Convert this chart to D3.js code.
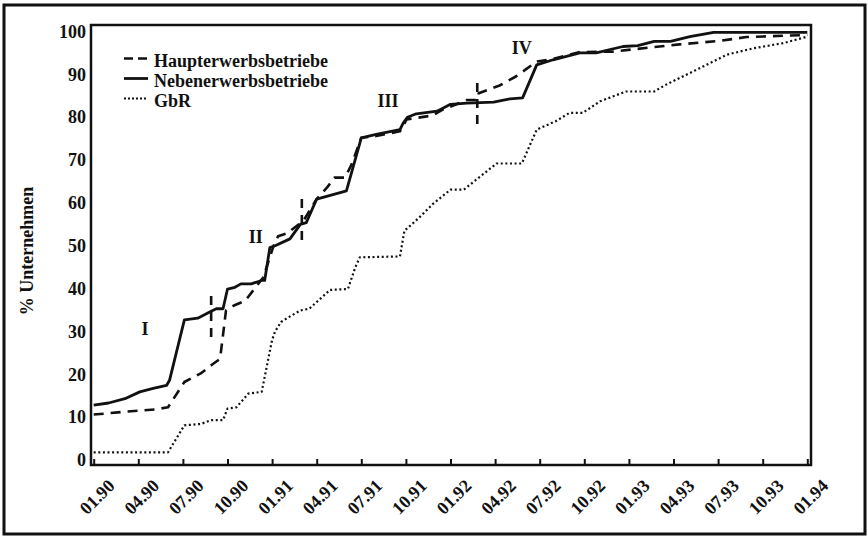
<!DOCTYPE html>
<html>
<head>
<meta charset="utf-8">
<script src="https://cdn.jsdelivr.net/npm/d3@7"></script>
<style>
  html, body { margin: 0; padding: 0; background: #fff; }
  svg { display: block; }
  text { font-family: "Liberation Serif", "Times New Roman", serif; font-weight: bold; fill: #111; }
</style>
</head>
<body>
<svg id="chart" width="868" height="537"></svg>
<script>
// ---- data (months since 01.1990, percent) ----
const xTickMonths = [0, 3, 6, 9, 12, 15, 18, 21, 24, 27, 30, 33, 36, 39, 42, 45, 48];
const xTickLabels = ["01.90","04.90","07.90","10.90","01.91","04.91","07.91","10.91",
                     "01.92","04.92","07.92","10.92","01.93","04.93","07.93","10.93","01.94"];
const yTickValues = [0, 10, 20, 30, 40, 50, 60, 70, 80, 90, 100];

const seriesNames = ["Haupterwerbsbetriebe", "Nebenerwerbsbetriebe", "GbR"];

const haupterwerb = [
  [0,10.6],[1.9,11.2],[4.1,11.8],[5,12.3],[6.1,18.2],[7.2,20.2],[7.9,22.1],[8.5,23.6],
  [8.9,34.9],[9.4,36],[10.2,37.2],[10.8,39.9],[11.4,42.6],[11.85,47.3],[12.1,50],[12.4,52.2],
  [13,52.9],[13.8,55],[14.1,55.8],[15,60.9],[15.7,63.6],[16.2,65.9],[16.9,65.9],[17.35,69],
  [18,75.2],[19,75.6],[20.6,76.7],[21.05,79.5],[22.8,80.4],[23.5,81.8],[25.1,84],[25.8,84],
  [25.9,85.6],[27.3,87.4],[28.4,89.5],[29.8,93],[30.9,93.6],[32.7,95.2],[34.9,95.3],
  [39.4,97],[42.1,97.8],[43.9,98.7],[48,99.2]
];
const nebenerwerb = [
  [0,12.8],[1,13.3],[2.1,14.3],[3.1,15.9],[4,16.7],[4.9,17.4],[5.1,18.6],[6.1,32.7],
  [7.0,33.1],[7.9,34.7],[8.25,35.3],[8.7,35.3],[9.0,39.9],[9.5,40.3],[9.9,41.1],[10.6,41.1],
  [11.3,41.9],[11.5,41.9],[11.85,49.6],[12.2,50],[13.2,51.6],[13.9,55],[14.3,55.4],[15.0,60.9],
  [17.0,62.8],[18.0,75.2],[19.0,76],[20.6,77.1],[20.8,78.5],[21.1,80],[21.7,80.8],[23.1,81.4],
  [24.0,83],[25.1,83.3],[26.9,83.5],[28.0,84.3],[28.85,84.5],[29.8,92.2],[30.9,93.4],[32.7,95],
  [33.8,95],[35.6,96.5],[36.6,96.7],[37.7,97.7],[38.8,97.7],[40.1,98.8],[41.7,99.8],[48,99.8]
];
const gbr = [
  [0,1.8],[5,1.8],[6.1,8.1],[7.2,8.4],[7.9,9.3],[8.7,9.3],[9.0,12],[9.6,12.3],[10.4,15.5],
  [11.3,15.9],[12.0,28],[12.2,30],[12.6,32.2],[13.1,33.3],[13.9,34.9],[14.5,35.3],[15.9,39.7],
  [17.1,39.9],[17.6,45],[17.9,47.3],[20.6,47.5],[20.9,53.5],[21.3,54.7],[21.9,56.6],[22.8,59.7],
  [24,63.1],[24.9,63.1],[27.1,69.2],[28.8,69.2],[29.8,77.1],[31.1,79.1],[32,81],[32.9,81],
  [34.05,83.7],[35.8,86],[37.7,86],[38.5,87.6],[40.8,91.5],[42.6,94.6],[44.4,96.1],[46.4,97.3],
  [48,98.8]
];
// vertical dashed period markers: [month, from %, to %]
const periodMarkers = [[7.9, 27.9, 38.3], [14.0, 50.8, 60.9], [25.8, 77.9, 88]];
// period annotations: [label, month, percent]
const periodLabels = [["I", 3.45, 30.5], ["II", 10.9, 52], ["III", 19.8, 83.7], ["IV", 28.8, 96.2]];

// ---- layout ----
const svg = d3.select("#chart");
const frame = { left: 91, right: 811, top: 25, bottom: 465 };
const x = d3.scaleLinear().domain([0, 48]).range([93.7, 807.3]);
const y = d3.scaleLinear().domain([0, 100]).range([460, 31.5]);

// outer border
svg.append("rect").attr("x", 4).attr("y", 5).attr("width", 861).attr("height", 529)
  .attr("fill", "none").attr("stroke", "#111").attr("stroke-width", 3);

// plot frame
svg.append("rect").attr("x", frame.left).attr("y", frame.top)
  .attr("width", frame.right - frame.left).attr("height", frame.bottom - frame.top)
  .attr("fill", "none").attr("stroke", "#111").attr("stroke-width", 2.5);

// x axis
const xAxis = svg.append("g").attr("transform", `translate(0,${frame.bottom})`)
  .call(d3.axisBottom(x).tickValues(xTickMonths).tickFormat((d, i) => xTickLabels[i])
    .tickSizeInner(-6).tickSizeOuter(0));
xAxis.select(".domain").remove();
xAxis.selectAll(".tick line").attr("stroke", "#111").attr("stroke-width", 2);
xAxis.selectAll(".tick text")
  .attr("x", 0).attr("y", 0).attr("dy", null)
  .attr("transform", "translate(3,32) rotate(-45)")
  .attr("text-anchor", "middle").attr("dominant-baseline", "central")
  .style("font-size", "18px").style("font-family", "Liberation Serif").style("font-weight", "bold");

// y axis
const yAxis = svg.append("g").attr("transform", `translate(${frame.left},0)`)
  .call(d3.axisLeft(y).tickValues(yTickValues).tickSize(0).tickPadding(5));
yAxis.select(".domain").remove();
yAxis.selectAll(".tick text")
  .style("font-size", "18px").style("font-family", "Liberation Serif").style("font-weight", "bold");

// y title
svg.append("text").attr("transform", "translate(27,251) rotate(-90)")
  .attr("text-anchor", "middle").attr("dominant-baseline", "central")
  .style("font-size", "18px").text("% Unternehmen");

// lines
const line = d3.line().x(d => x(d[0])).y(d => y(d[1]));
const styles = [
  { data: haupterwerb, dash: "10,7", width: 2.6 },
  { data: nebenerwerb, dash: null, width: 2.8 },
  { data: gbr, dash: "2,2.6", width: 2.2 }
];
styles.forEach(s => {
  svg.append("path").datum(s.data).attr("d", line)
    .attr("fill", "none").attr("stroke", "#111").attr("stroke-width", s.width)
    .attr("stroke-dasharray", s.dash).attr("stroke-linejoin", "round");
});

// period markers
svg.selectAll(".marker").data(periodMarkers).enter().append("line")
  .attr("x1", d => x(d[0])).attr("x2", d => x(d[0]))
  .attr("y1", d => y(d[2])).attr("y2", d => y(d[1]))
  .attr("stroke", "#111").attr("stroke-width", 2.6).attr("stroke-dasharray", "9,7");

// period labels
svg.selectAll(".plabel").data(periodLabels).enter().append("text")
  .attr("x", d => x(d[1])).attr("y", d => y(d[2]))
  .attr("text-anchor", "middle").attr("dominant-baseline", "central")
  .style("font-size", "18px").text(d => d[0]);

// legend
const legendY = [67, 87, 107];
const legend = svg.append("g");
seriesNames.forEach((name, i) => {
  const s = styles[i];
  legend.append("line").attr("x1", 124).attr("x2", 148)
    .attr("y1", legendY[i] - 8.5).attr("y2", legendY[i] - 8.5)
    .attr("stroke", "#111").attr("stroke-width", s.width)
    .attr("stroke-dasharray", i === 0 ? "9,5" : (i === 2 ? "2,2" : null));
  legend.append("text").attr("x", 154).attr("y", legendY[i])
    .style("font-size", "18px").text(name);
});
</script>
</body>
</html>
